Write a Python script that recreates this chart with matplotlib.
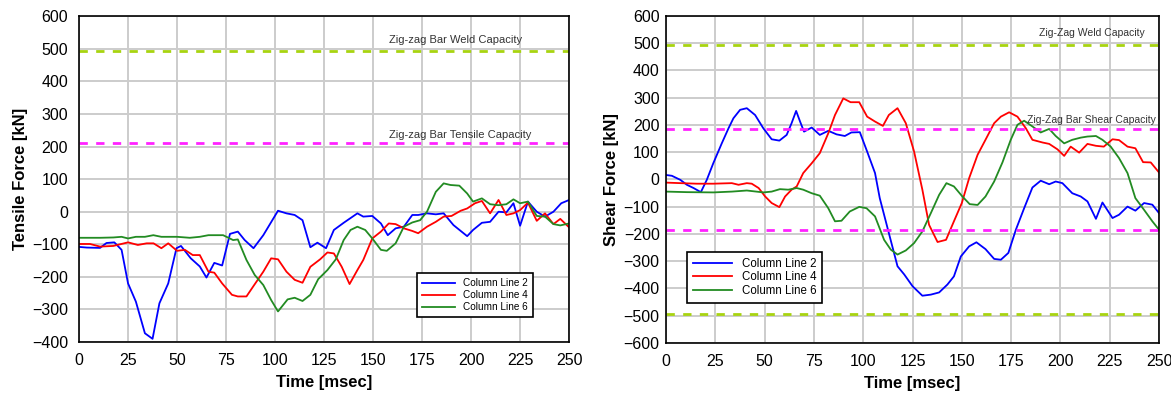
import matplotlib.pyplot as plt

plt.rcParams['font.family'] = ['Liberation Sans', 'DejaVu Sans']

# ---- tensile force (left panel) ----
t_ten_cl2 = [0, 4, 10.7, 14, 18, 21.7, 25, 29, 33.6, 37.5, 41, 45.5, 49.7, 52, 57, 61.6, 65, 69, 73,
             77, 81, 84.5, 89, 94, 97.6, 101.5, 105.8, 110, 114, 118, 121.6, 126, 130, 135, 142, 145,
             149.6, 154, 157.5, 161.5, 165.7, 170, 173, 177.5, 182, 186, 191, 198, 201, 205.5, 209.7,
             214, 218, 221.6, 225, 229, 233.5, 237.7, 242, 246, 250]
f_ten_cl2 = [-108, -110, -111, -96, -94, -117, -220, -276, -373, -390, -281, -220, -112, -105, -143,
             -168, -202, -157, -165, -68, -61, -87, -112, -72, -36, 3, -5, -10, -26, -109, -95, -112,
             -56, -34, -5, -15, -13, -36, -72, -51, -46, -10, -10, -5, -8, -5, -41, -75, -56, -34, -31,
             0, -2, 26, -43, 31, 0, -15, 0, 26, 36]

t_ten_cl4 = [0, 5.6, 10.7, 17.5, 25, 30, 34.5, 38, 42, 45.5, 50, 54, 58, 61.6, 66, 69, 73, 78, 81,
             85.4, 89, 94, 98, 101.5, 105.8, 110, 114, 118, 123, 126.7, 130, 134, 138, 142, 145, 149.6,
             154, 158, 161.5, 165.7, 170, 173, 177.5, 182, 186, 190, 194.7, 198, 202, 205.5, 209.7,
             214, 218, 221.6, 225, 229, 233.5, 237.7, 242, 245.5, 250]
f_ten_cl4 = [-99, -99, -107, -105, -94, -102, -97, -97, -112, -97, -120, -117, -133, -133, -184, -187,
             -220, -255, -260, -260, -228, -184, -143, -146, -184, -209, -218, -169, -146, -125, -128,
             -169, -222, -179, -148, -82, -61, -36, -38, -51, -59, -66, -46, -31, -15, -13, 3, 10, 26,
             33, -5, 36, -10, -5, 5, 28, -28, -5, -38, -22, -48]

t_ten_cl6 = [0, 10.7, 17.5, 21.7, 25, 29, 33.6, 37.9, 42, 50, 56.5, 61.6, 66, 73.5, 78.6, 81, 85.4,
             89.6, 94, 98, 101.5, 106.4, 110, 114, 118, 122, 126.7, 131, 135, 138.5, 142, 146, 149.6,
             154, 157, 161.5, 165.7, 170, 174, 177.5, 182, 186, 189.5, 194, 198, 201, 205.5, 209.7,
             214, 218, 221.6, 225, 229, 233.5, 237.7, 242, 245.5, 250]
f_ten_cl6 = [-80, -80, -79, -77, -82, -77, -77, -72, -77, -77, -80, -77, -72, -72, -87, -85, -148,
             -194, -225, -271, -306, -269, -264, -274, -255, -207, -179, -146, -87, -56, -46, -56, -82,
             -117, -120, -97, -46, -33, -26, 0, 61, 87, 82, 80, 56, 31, 41, 23, 20, 23, 38, 26, 31,
             -13, -15, -38, -42, -36]

# ---- shear force (right panel) ----
t_sh_cl2 = [0, 3, 7.3, 10.6, 14, 17.7, 20.7, 24, 28.3, 31.7, 34.2, 37.6, 41, 45.2, 49.4, 53.6, 57.5,
            61.2, 63.7, 66, 68, 70, 73.9, 78, 82.3, 86.5, 90.7, 94, 98.3, 102, 106, 108.4, 113, 117.4,
            120.8, 125, 130, 134.3, 138.5, 142.7, 146, 149.5, 153.7, 157.4, 162, 166.4, 169.8, 173.6,
            177.4, 181.6, 185.8, 190, 194.3, 197.6, 201, 206, 210.3, 213.7, 218, 221.3, 226.4, 229.7,
            234, 238, 242.4, 246.6, 250]
f_sh_cl2 = [16, 13, -2, -20, -32, -47, -2, 59, 132, 187, 224, 255, 261, 236, 187, 147, 142, 163, 206,
            251, 212, 175, 190, 163, 178, 165, 159, 172, 173, 102, 23, -69, -197, -319, -349, -392,
            -427, -423, -415, -386, -356, -283, -246, -231, -256, -292, -295, -270, -185, -106, -30,
            -5, -18, -8, -14, -51, -63, -81, -145, -85, -142, -130, -100, -115, -87, -93, -124]

t_sh_cl4 = [0, 7.3, 15.7, 24, 33.4, 36.8, 41, 43.5, 47, 50.3, 53.6, 57.5, 60.4, 63.7, 66.3, 69.6,
            73.9, 78, 82.3, 85.7, 89.9, 93.6, 98, 102, 106, 110, 113, 117.4, 121.6, 125.8, 130, 133.4,
            137.7, 142, 146, 150, 153.7, 158, 162, 166.4, 169.8, 174, 178.2, 182.5, 185.8, 191, 194.3,
            198.5, 201.9, 205.2, 209.5, 213.7, 218, 222, 226.4, 229.7, 234, 238, 241.9, 245.8, 250]
f_sh_cl4 = [-12, -14, -16, -16, -14, -20, -14, -16, -32, -63, -87, -102, -63, -38, -26, 23, 59, 96,
            169, 236, 297, 283, 283, 230, 212, 196, 236, 261, 206, 102, -38, -167, -230, -222, -154,
            -87, 4, 90, 145, 206, 230, 246, 230, 187, 145, 135, 130, 110, 86, 120, 98, 130, 123, 120,
            147, 144, 120, 114, 63, 62, 25]

t_sh_cl6 = [0, 10.6, 24, 33.4, 41, 49.4, 53.6, 57.8, 62, 66.3, 69.6, 73.9, 78, 82.3, 85.7, 89, 93.2,
            98, 101.7, 106, 110.6, 114, 117.4, 121.6, 125.8, 130, 134.3, 138.5, 142.2, 146, 150.3,
            154, 158, 162, 166.4, 170.6, 174.8, 178.2, 181.6, 185.8, 190, 194.3, 197.6, 201.9, 206,
            210.3, 213.7, 218, 221.3, 225.5, 229.7, 234, 238, 242.4, 246.6, 250]
f_sh_cl6 = [-45, -47, -48, -45, -41, -48, -45, -36, -38, -32, -38, -51, -60, -106, -154, -152, -118,
            -101, -106, -136, -222, -258, -276, -261, -234, -191, -124, -57, -14, -26, -63, -91, -94,
            -63, -8, 62, 145, 200, 215, 194, 172, 185, 159, 132, 145, 153, 157, 159, 145, 120, 78, 23,
            -69, -112, -154, -185]

ten_weld, ten_bar = 492, 212
sh_weld, sh_bar = 494, 185

fig = plt.figure(figsize=(11.71, 3.95), dpi=100)
ax1 = fig.add_axes([0.0675, 0.134, 0.4185, 0.825])
ax2 = fig.add_axes([0.5687, 0.132, 0.4211, 0.828])

dash = (0, (3, 3))
lime = '#a8d410'
mag = '#ff22ff'


def style(ax, ylab, ylim, yticks, ypad):
    ax.set_xlim(0, 250)
    ax.set_ylim(*ylim)
    ax.set_xticks(range(0, 251, 25))
    ax.set_yticks(yticks)
    ax.grid(True, color='#cccccc', lw=1.4)
    ax.set_axisbelow(True)
    ax.tick_params(labelsize=11.5, length=0)
    ax.tick_params(axis='x', pad=8)
    ax.tick_params(axis='y', pad=ypad)
    ax.set_xlabel('Time [msec]', fontsize=12, fontweight='bold', labelpad=5)
    ax.set_ylabel(ylab, fontsize=12, fontweight='bold', labelpad=3)
    for s in ax.spines.values():
        s.set_linewidth(1.2)


# left: tensile
ax1.plot(t_ten_cl2, f_ten_cl2, color='#0000ff', lw=1.3, label='Column Line 2')
ax1.plot(t_ten_cl4, f_ten_cl4, color='#ff0000', lw=1.3, label='Column Line 4')
ax1.plot(t_ten_cl6, f_ten_cl6, color='#228b22', lw=1.3, label='Column Line 6')
ax1.axhline(ten_weld, color=lime, lw=2, ls=dash)
ax1.axhline(ten_bar, color=mag, lw=2, ls=dash)
ax1.text(158, 526, 'Zig-zag Bar Weld Capacity', fontsize=8, color='#333333', va='center')
ax1.text(158, 235, 'Zig-zag Bar Tensile Capacity', fontsize=8, color='#333333', va='center')
style(ax1, 'Tensile Force [kN]', (-400, 600), range(-400, 601, 100), 8)
leg1 = ax1.legend(loc='lower right', bbox_to_anchor=(0.937, 0.061), fontsize=7.2, frameon=True,
                  fancybox=False, edgecolor='black', framealpha=1, handlelength=3.3,
                  borderpad=0.5, labelspacing=0.2)
leg1.get_frame().set_linewidth(1.2)

# right: shear
ax2.plot(t_sh_cl2, f_sh_cl2, color='#0000ff', lw=1.3, label='Column Line 2')
ax2.plot(t_sh_cl4, f_sh_cl4, color='#ff0000', lw=1.3, label='Column Line 4')
ax2.plot(t_sh_cl6, f_sh_cl6, color='#228b22', lw=1.3, label='Column Line 6')
for yv in (sh_weld, -sh_weld):
    ax2.axhline(yv, color=lime, lw=2, ls=dash)
for yv in (sh_bar, -sh_bar):
    ax2.axhline(yv, color=mag, lw=2, ls=dash)
ax2.text(189, 536, 'Zig-Zag Weld Capacity', fontsize=7.5, color='#333333', va='center')
ax2.text(183, 216, 'Zig-Zag Bar Shear Capacity', fontsize=7.5, color='#333333', va='center')
style(ax2, 'Shear Force [kN]', (-600, 600), range(-600, 601, 100), 4.5)
leg2 = ax2.legend(loc='upper left', bbox_to_anchor=(0.032, 0.296), fontsize=8.3, frameon=True,
                  fancybox=False, edgecolor='black', framealpha=1, handlelength=3.4,
                  borderpad=0.5, labelspacing=0.15)
leg2.get_frame().set_linewidth(1.2)

fig.savefig('out.png', dpi=100)
